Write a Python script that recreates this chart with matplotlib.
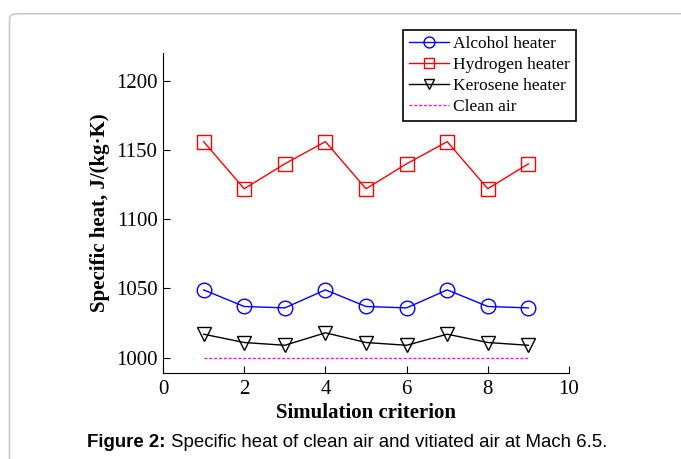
import matplotlib
matplotlib.use('Agg')
import matplotlib.pyplot as plt
from matplotlib.patches import FancyBboxPatch

criterion = [1, 2, 3, 4, 5, 6, 7, 8, 9]
alcohol = [1049, 1037, 1036, 1049, 1037, 1036, 1049, 1037, 1036]
hydrogen = [1156, 1122, 1140, 1156, 1122, 1140, 1156, 1122, 1140]
kerosene = [1017, 1011, 1009, 1018, 1011, 1009, 1017, 1011, 1009]
clean_air = [1000] * 9

plt.rcParams['font.family'] = 'Liberation Serif'

fig = plt.figure(figsize=(6.81, 4.59), dpi=100)

# grey rounded frame around the figure
frame = FancyBboxPatch((0.014, -0.05), 1.1, 1.02, boxstyle='round,pad=0,rounding_size=0.012',
                       transform=fig.transFigure, facecolor='white', edgecolor='#c8c8c8', lw=1.2,
                       zorder=-10)
fig.patches.append(frame)

ax = fig.add_axes([0.2394, 0.1874, 0.5961, 0.6971])
ax.set_facecolor('none')

ax.plot(criterion, alcohol, color='blue', marker='o', ms=10.5, mfc='none', mew=1, lw=1, label='Alcohol heater')
ax.plot(criterion, hydrogen, color='red', marker='s', ms=9.5, mfc='none', mew=1, lw=1, label='Hydrogen heater')
ax.plot(criterion, kerosene, color='black', marker='v', ms=10.5, mfc='none', mew=1, lw=1, label='Kerosene heater')
ax.plot(criterion, clean_air, color='magenta', ls='--', dashes=(2, 1.5), lw=1, label='Clean air')

ax.set_xlim(0, 10)
ax.set_ylim(989, 1220)
ax.set_xticks([0, 2, 4, 6, 8, 10])
ax.set_yticks([1000, 1050, 1100, 1150, 1200])
ax.tick_params(direction='in', length=5, labelsize=15, width=0.8)
ax.tick_params(axis='x', pad=5)
ax.tick_params(axis='y', pad=4)
ax.spines['top'].set_visible(False)
ax.spines['right'].set_visible(False)

ax.set_xlabel('Simulation criterion', fontsize=15, fontweight='bold', labelpad=3)
ax.set_ylabel('Specific heat, J/(kg·K)', fontsize=15, fontweight='bold', labelpad=4)

leg = ax.legend(loc='upper left', bbox_to_anchor=(0.592, 0.935), bbox_transform=fig.transFigure,
                fontsize=12.5, frameon=True, fancybox=False, borderpad=0.35, labelspacing=0.28,
                handlelength=2.3, handletextpad=0.25, borderaxespad=0, framealpha=1,
                markerscale=0.75)
leg.get_frame().set_edgecolor('black')
leg.get_frame().set_linewidth(1.2)

fig.text(0.128, 0.026, 'Figure 2:', family='Liberation Sans', fontweight='bold', fontsize=13.4,
         va='baseline')
fig.text(0.251, 0.026, 'Specific heat of clean air and vitiated air at Mach 6.5.',
         family='Liberation Sans', fontsize=13.4, va='baseline')

fig.savefig('out.png', dpi=100)
